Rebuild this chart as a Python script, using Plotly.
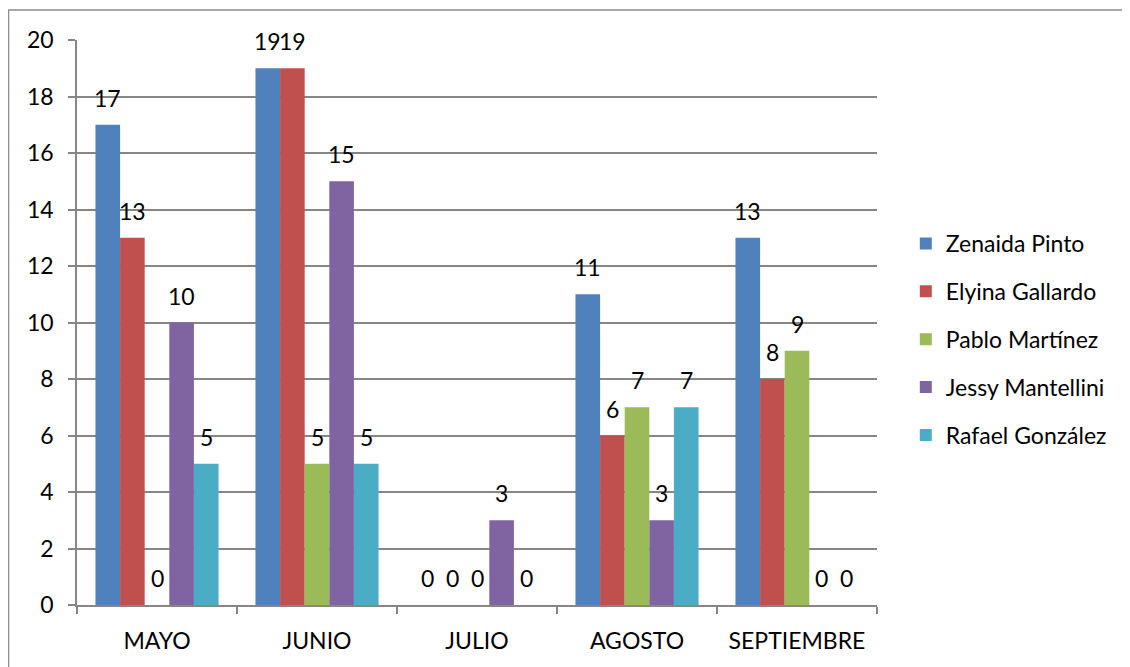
import plotly.graph_objects as go

meses = ['MAYO', 'JUNIO', 'JULIO', 'AGOSTO', 'SEPTIEMBRE']

zenaida = [17, 19, 0, 11, 13]
elyina = [13, 19, 0, 6, 8]
pablo = [0, 5, 0, 7, 9]
jessy = [10, 15, 3, 3, 0]
rafael = [5, 5, 0, 7, 0]

series = [
    ('Zenaida Pinto', zenaida, '#4F81BD'),
    ('Elyina Gallardo', elyina, '#C0504D'),
    ('Pablo Martínez', pablo, '#9BBB59'),
    ('Jessy Mantellini', jessy, '#8064A2'),
    ('Rafael González', rafael, '#4BACC6'),
]

FONT = 'Lato, Carlito, Calibri, sans-serif'
GRID = '#868686'
FS = 23

# plot area geometry (page has an 8px body margin)
W, H = 1122, 659
L, T, PW, PH = 69, 32, 800, 565
BARGAP = 1.5 / 6.5
bar_w = PW / len(meses) * (1 - BARGAP) / len(series)

fig = go.Figure()
annotations = []
for i, (name, vals, color) in enumerate(series):
    fig.add_trace(go.Bar(
        x=meses, y=vals, name=name,
        marker=dict(color=color, line=dict(width=0)),
        legendgroup=str(i),
    ))
    # data labels sit a little above the bar top, Excel-style
    for m, v in zip(meses, vals):
        annotations.append(dict(
            x=m, y=v, xref='x', yref='y', text=str(v), showarrow=False,
            xshift=(i - (len(series) - 1) / 2) * bar_w, yshift=27,
            yanchor='middle', font=dict(family=FONT, size=FS, color='black'),
        ))

fig.update_layout(
    width=W, height=H,
    margin=dict(l=L, r=W - L - PW, t=T, b=H - T - PH, pad=0),
    paper_bgcolor='white',
    plot_bgcolor='white',
    barmode='group',
    bargap=BARGAP,
    bargroupgap=0,
    font=dict(family=FONT, size=FS, color='black'),
    annotations=annotations,
    legend=dict(
        x=1.036, xanchor='left', y=0.47, yanchor='middle',
        tracegroupgap=15, itemwidth=30,
        font=dict(family=FONT, size=FS, color='black'),
    ),
    xaxis=dict(
        showline=True, linecolor=GRID, linewidth=1.5,
        ticks='outside', tickson='boundaries', ticklen=7, tickcolor=GRID, tickwidth=1.5,
        ticklabelstandoff=15,
        showgrid=False,
    ),
    yaxis=dict(
        range=[0, 20], dtick=2,
        showline=True, linecolor=GRID, linewidth=1.5,
        ticks='outside', ticklen=7, tickcolor=GRID, tickwidth=1.5,
        ticklabelstandoff=10,
        showgrid=True, gridcolor=GRID, gridwidth=1.5,
        zeroline=False,
    ),
    shapes=[dict(
        type='rect', xref='paper', yref='paper',
        x0=(0.5 - L) / PW, x1=1.6, y0=-0.3, y1=1 + (T - 2) / PH,
        line=dict(color='#8c8c8c', width=1.5),
    )],
)

fig.write_html('out.html')
